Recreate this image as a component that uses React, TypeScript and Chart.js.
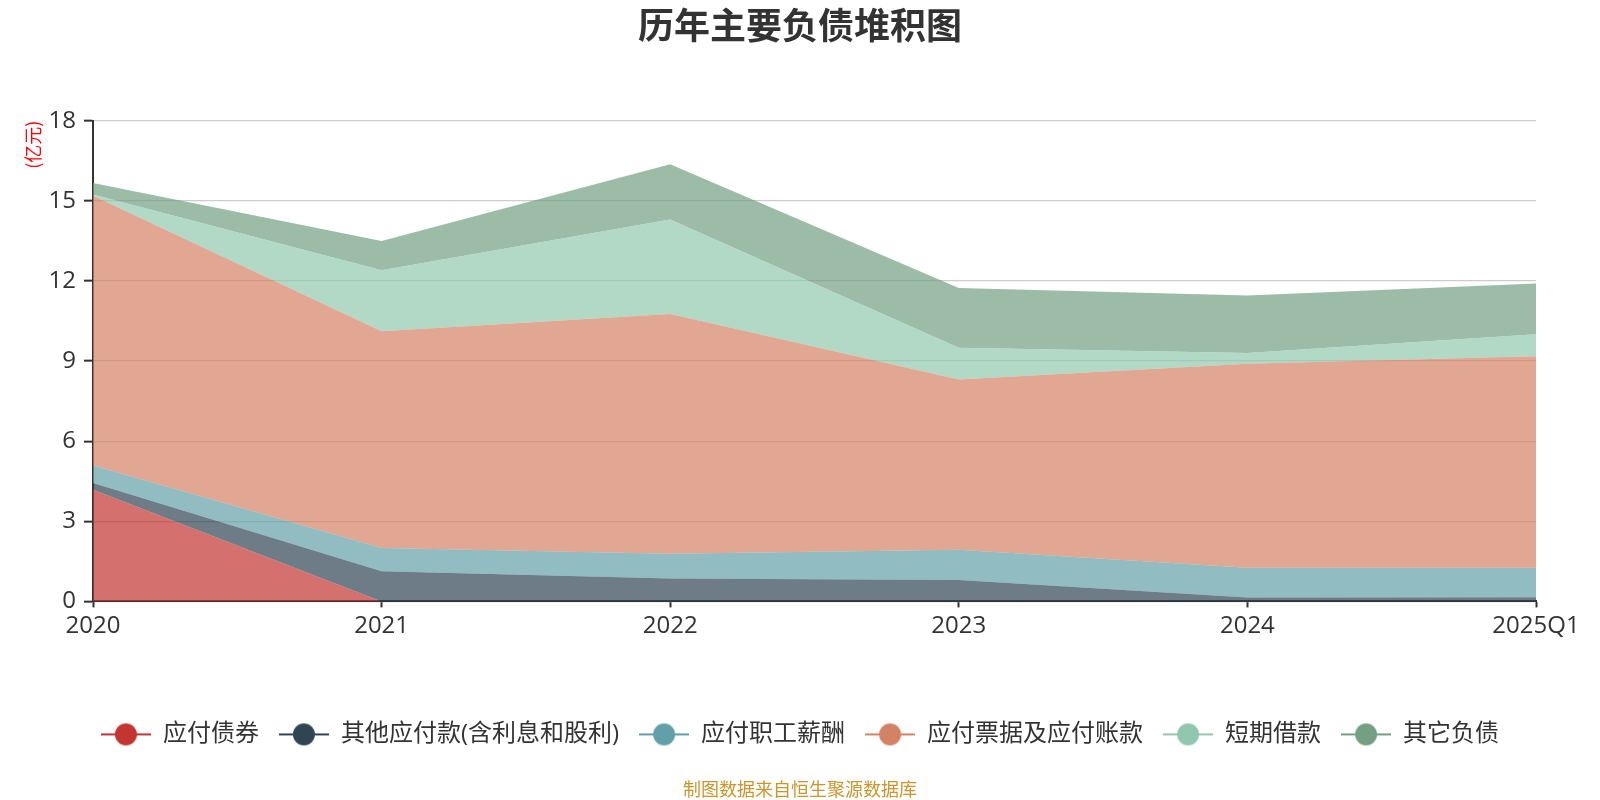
import { useEffect, useRef } from "react";
import { Chart, registerables } from "chart.js";

Chart.register(...registerables);

const categories = ["2020", "2021", "2022", "2023", "2024", "2025Q1"];
const seriesNames = [
  "应付债券",
  "其他应付款(含利息和股利)",
  "应付职工薪酬",
  "应付票据及应付账款",
  "短期借款",
  "其它负债",
];
const bondsPayable = [4.18, 0, 0, 0, 0, 0];
const otherPayables = [0.25, 1.13, 0.86, 0.8, 0.15, 0.16];
const payroll = [0.66, 0.87, 0.92, 1.13, 1.11, 1.1];
const notesAccounts = [10.1, 8.12, 8.98, 6.38, 7.64, 7.92];
const shortLoans = [0.05, 2.28, 3.54, 1.19, 0.4, 0.82];
const otherLiabilities = [0.43, 1.1, 2.07, 2.24, 2.15, 1.9];
const yTicks = [0, 3, 6, 9, 12, 15, 18];

const colors = ["#c23531", "#2f4554", "#61a0a8", "#d48265", "#91c7ae", "#749f83"];
const FILL_ALPHA = 0.7;

function hexToRgba(hex: string, a: number) {
  const n = parseInt(hex.slice(1), 16);
  return `rgba(${(n >> 16) & 255},${(n >> 8) & 255},${n & 255},${a})`;
}

function makeMarker(color: string) {
  const c = document.createElement("canvas");
  c.width = 50;
  c.height = 24;
  const ctx = c.getContext("2d")!;
  ctx.strokeStyle = color;
  ctx.lineWidth = 2;
  ctx.beginPath();
  ctx.moveTo(0, 12);
  ctx.lineTo(50, 12);
  ctx.stroke();
  ctx.fillStyle = color;
  ctx.beginPath();
  ctx.arc(25, 12, 11, 0, Math.PI * 2);
  ctx.fill();
  return c;
}

const FONT = '"Open Sans", "Noto Sans CJK SC", sans-serif';

export default function App() {
  const ref = useRef<HTMLCanvasElement | null>(null);

  useEffect(() => {
    if (!ref.current) return;
    const seriesValues = [bondsPayable, otherPayables, payroll, notesAccounts, shortLoans, otherLiabilities];
    const markers = colors.map(makeMarker);
    const chart = new Chart(ref.current, {
      type: "line",
      data: {
        labels: categories,
        datasets: seriesValues.map((vals, i) => ({
          label: seriesNames[i],
          data: vals,
          fill: i === 0 ? "origin" : "-1",
          backgroundColor: hexToRgba(colors[i], FILL_ALPHA),
          borderColor: colors[i],
          borderWidth: 0,
          pointRadius: 0,
          pointHoverRadius: 0,
          tension: 0,
        })),
      },
      options: {
        animation: false,
        responsive: false,
        font: { family: FONT },
        layout: { padding: 0 },
        plugins: {
          tooltip: { enabled: false },
          title: {
            display: true,
            text: "历年主要负债堆积图",
            color: "#333",
            font: { family: '"Noto Sans CJK SC", sans-serif', size: 36, weight: "bold" },
            padding: { top: 4, bottom: 73.5 },
          },
          subtitle: {
            display: true,
            position: "bottom",
            text: "制图数据来自恒生聚源数据库",
            color: "#c9952c",
            font: { family: '"Noto Sans CJK SC", sans-serif', size: 18 },
            padding: { top: 22, bottom: 0 },
          },
          legend: {
            display: true,
            position: "bottom",
            labels: {
              color: "#333",
              font: { family: FONT, size: 24 },
              usePointStyle: true,
              pointStyleWidth: 50,
              boxHeight: 24,
              padding: 20,
              generateLabels: (ch: any) => {
                const items = (Chart.defaults.plugins.legend.labels as any).generateLabels(ch);
                items.forEach((it: any, i: number) => {
                  it.pointStyle = markers[i];
                });
                return items;
              },
            },
          },
        },
        scales: {
          x: {
            offset: false,
            grid: {
              display: true,
              drawOnChartArea: false,
              drawTicks: true,
              tickLength: 6,
              tickColor: "#333",
              tickWidth: 2,
              color: "#333",
            },
            border: { display: true, color: "#333", width: 2 },
            ticks: {
              color: "#333",
              font: { family: FONT, size: 24 },
              padding: 4,
              maxRotation: 0,
              autoSkip: false,
            },
            afterFit: (scale: any) => {
              scale.height = 101;
            },
          },
          y: {
            stacked: true,
            min: yTicks[0],
            max: yTicks[yTicks.length - 1],
            grid: {
              color: "#cccccc",
              lineWidth: 1.3,
              tickLength: 9,
              tickColor: "#333",
              tickWidth: 2,
            },
            border: { display: true, color: "#333", width: 2 },
            ticks: {
              stepSize: yTicks[1] - yTicks[0],
              color: "#333",
              font: { family: FONT, size: 24 },
              padding: 8,
            },
            title: {
              display: true,
              text: "(亿元)",
              color: "#ff0000",
              align: "end",
              font: { family: '"Noto Sans CJK SC", sans-serif', size: 18 },
              padding: { top: 22, bottom: 0 },
            },
            afterFit: (scale: any) => {
              scale.width = 93;
            },
          },
          rightSpace: {
            type: "linear",
            position: "right",
            display: true,
            grid: { display: false, drawTicks: false },
            border: { display: false },
            ticks: { display: false },
            afterFit: (scale: any) => {
              scale.width = 64;
            },
          },
        },
      } as any,
    });
    return () => chart.destroy();
  }, []);

  return (
    <div style={{ position: "absolute", left: 0, top: 0, width: 1600, height: 800, background: "#fff" }}>
      <canvas ref={ref} width={1600} height={800} />
    </div>
  );
}
